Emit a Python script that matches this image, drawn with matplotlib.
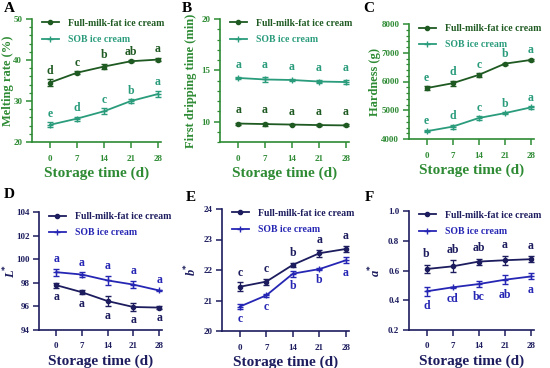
import matplotlib
matplotlib.use("Agg")
import matplotlib.pyplot as plt
from matplotlib.lines import Line2D
from matplotlib.ticker import AutoMinorLocator, FormatStrFormatter

plt.rcParams['font.family'] = ['Liberation Serif', 'DejaVu Serif']
plt.rcParams['font.weight'] = 'bold'
plt.rcParams['mathtext.fontset'] = 'custom'
plt.rcParams['mathtext.bfit'] = 'Liberation Serif:italic:bold'

days = [0, 7, 14, 21, 28]
labels = ["Full-milk-fat ice cream", "SOB ice cream"]

# A: melting rate (%)
melt_full = [34.5, 36.9, 38.4, 39.7, 40.1]
melt_full_err = [0.8, 0.4, 0.7, 0.2, 0.4]
melt_sob = [24.2, 25.7, 27.5, 30.0, 31.7]
melt_sob_err = [0.6, 0.5, 0.7, 0.4, 0.8]
melt_full_sig = ["d", "c", "b", "ab", "a"]
melt_sob_sig = ["e", "d", "c", "b", "a"]

# B: first dripping time (min)
drip_full = [9.8, 9.75, 9.7, 9.65, 9.62]
drip_full_err = [0.1, 0.15, 0.08, 0.12, 0.1]
drip_sob = [14.25, 14.1, 14.05, 13.9, 13.85]
drip_sob_err = [0.1, 0.2, 0.1, 0.15, 0.2]
drip_full_sig = ["a", "a", "a", "a", "a"]
drip_sob_sig = ["a", "a", "a", "a", "a"]

# C: hardness (g)
hard_full = [5770, 5940, 6230, 6620, 6750]
hard_full_err = [60, 90, 60, 30, 40]
hard_sob = [4270, 4430, 4730, 4900, 5100]
hard_sob_err = [40, 70, 60, 30, 40]
hard_full_sig = ["e", "d", "c", "b", "a"]
hard_sob_sig = ["e", "d", "c", "b", "a"]

# D: L*
l_full = [97.8, 97.2, 96.45, 95.95, 95.9]
l_full_err = [0.2, 0.15, 0.45, 0.3, 0.1]
l_sob = [98.9, 98.7, 98.2, 97.85, 97.35]
l_sob_err = [0.3, 0.2, 0.4, 0.3, 0.05]
l_full_sig = ["a", "a", "a", "a", "a"]
l_sob_sig = ["a", "a", "a", "a", "a"]

# E: b*
b_full = [21.45, 21.62, 22.17, 22.55, 22.69]
b_full_err = [0.15, 0.1, 0.06, 0.12, 0.1]
b_sob = [20.8, 21.17, 21.88, 22.03, 22.32]
b_sob_err = [0.08, 0.05, 0.1, 0.03, 0.1]
b_full_sig = ["c", "c", "b", "a", "a"]
b_sob_sig = ["c", "c", "b", "b", "a"]

# F: a*
a_full = [0.61, 0.628, 0.66, 0.669, 0.676]
a_full_err = [0.03, 0.04, 0.02, 0.03, 0.02]
a_sob = [0.46, 0.487, 0.509, 0.538, 0.56]
a_sob_err = [0.03, 0.005, 0.02, 0.03, 0.02]
a_full_sig = ["b", "ab", "ab", "a", "a"]
a_sob_sig = ["d", "cd", "bc", "ab", "a"]

green_axis = "#2e8b34"
green_dark = "#1f5a22"
green_teal = "#2a9c7c"
navy = "#1c1c5e"
blue = "#2626b4"

W, H = 550, 368
fig = plt.figure(figsize=(W / 100, H / 100), dpi=100)


def make_ax(left, top, right, bottom):
    return fig.add_axes([left / W, 1 - bottom / H, (right - left) / W, (bottom - top) / H])


def panel(ax, box, ylab_x, full, full_err, sob, sob_err, full_sig, sob_sig, ylim, yticks,
          ylabel, c_axis, c_full, c_sob, sig_off, sob_below, full_below, minor,
          c_full_sig=None):
    c_full_sig = c_full_sig or c_full
    ax.errorbar(days, full, yerr=full_err, color=c_full, marker="o", ms=3,
                lw=1.3, capsize=2, elinewidth=0.9)
    ax.errorbar(days, sob, yerr=sob_err, color=c_sob, marker="+", ms=4,
                mew=1.0, lw=1.3, capsize=2, elinewidth=0.9)
    for x, y, e, s in zip(days, full, full_err, full_sig):
        yy = y - e - sig_off if full_below else y + e + sig_off
        ax.text(x, yy, s, color=c_full_sig, ha="center",
                va="top" if full_below else "bottom", fontsize=8.5, fontweight="bold")
    for x, y, e, s in zip(days, sob, sob_err, sob_sig):
        yy = y - e - sig_off if sob_below else y + e + sig_off
        ax.text(x, yy, s, color=c_sob, ha="center",
                va="top" if sob_below else "bottom", fontsize=8.5, fontweight="bold")
    ax.set_xlim(-4.7, 28.8)
    ax.set_ylim(*ylim)
    ax.set_xticks(days)
    ax.set_yticks(yticks)
    if minor:
        ax.yaxis.set_minor_locator(AutoMinorLocator(5))
    for sp in ["top", "right"]:
        ax.spines[sp].set_visible(False)
    for sp in ["left", "bottom"]:
        ax.spines[sp].set_color(c_axis)
        ax.spines[sp].set_linewidth(1.2)
    ax.tick_params(colors=c_axis, labelcolor=c_axis, labelsize=6.5, width=1.1, length=4, pad=3)
    ax.tick_params(axis="x", pad=5)
    ax.tick_params(which="minor", colors=c_axis, width=0.9, length=2)
    ax.set_xlabel("Storage time (d)", color=c_axis, fontsize=11, fontweight="bold", labelpad=3)
    ax.set_ylabel(ylabel, color=c_axis, fontsize=9, fontweight="bold")
    left, right = box
    ax.yaxis.set_label_coords((ylab_x - left) / (right - left), 0.5)
    handles = [Line2D([], [], color=c_full, marker="o", ms=3, lw=1.3),
               Line2D([], [], color=c_sob, marker="+", ms=4, mew=1.0, lw=1.3)]
    leg = ax.legend(handles, labels, loc="upper left", bbox_to_anchor=(0.03, 1.05),
                    frameon=False, prop={"size": 7, "weight": "bold"}, handlelength=1.8,
                    labelspacing=0.75, borderaxespad=0.2, handletextpad=0.9)
    for t, c in zip(leg.get_texts(), [c_full, c_sob]):
        t.set_color(c)


axA = make_ax(32, 19, 161, 142)
panel(axA, (32, 161), 14, melt_full, melt_full_err, melt_sob, melt_sob_err, melt_full_sig,
      melt_sob_sig, (20, 50), [20, 30, 40, 50], "Melting rate (%)", green_axis, green_dark,
      green_teal, 0.6, False, False, True)

axB = make_ax(220, 19, 349, 142)
panel(axB, (220, 349), 197, drip_full, drip_full_err, drip_sob, drip_sob_err, drip_full_sig,
      drip_sob_sig, (8, 20), [10, 15, 20], "First dripping time (min)", green_axis, green_dark,
      green_teal, 0.6, False, False, True)

axC = make_ax(409, 24, 534, 139)
panel(axC, (409, 534), 381, hard_full, hard_full_err, hard_sob, hard_sob_err, hard_full_sig,
      hard_sob_sig, (4000, 8000), [4000, 5000, 6000, 7000, 8000], "Hardness (g)", green_axis,
      green_dark, green_teal, 90, False, False, True, c_full_sig=green_teal)

axD = make_ax(39, 212, 162, 330)
panel(axD, (39, 162), 18, l_full, l_full_err, l_sob, l_sob_err, l_full_sig, l_sob_sig,
      (94, 104), [94, 96, 98, 100, 102, 104], r"$\mathbfit{L}^{*}$", navy, navy, blue,
      0.3, False, True, False)

axE = make_ax(222, 209, 349, 331)
panel(axE, (222, 349), 199, b_full, b_full_err, b_sob, b_sob_err, b_full_sig, b_sob_sig,
      (20, 24), [20, 21, 22, 23, 24], r"$\mathbfit{b}^{*}$", navy, navy, blue,
      0.12, True, False, False)

axF = make_ax(409, 211, 534, 330)
panel(axF, (409, 534), 383, a_full, a_full_err, a_sob, a_sob_err, a_full_sig, a_sob_sig,
      (0.2, 1.0), [0.2, 0.4, 0.6, 0.8, 1.0], r"$\mathbfit{a}^{*}$", navy, navy, blue,
      0.03, True, False, False)
axF.yaxis.set_major_formatter(FormatStrFormatter("%.1f"))

for lab, x, y in [("A", 4, 9), ("B", 182, 8), ("C", 363, 9),
                  ("D", 4, 195), ("E", 186, 198), ("F", 365, 198)]:
    fig.text(x / W, 1 - y / H, lab, fontsize=11, fontweight="bold", va="center", color="black")

fig.savefig("out.png", dpi=100)
